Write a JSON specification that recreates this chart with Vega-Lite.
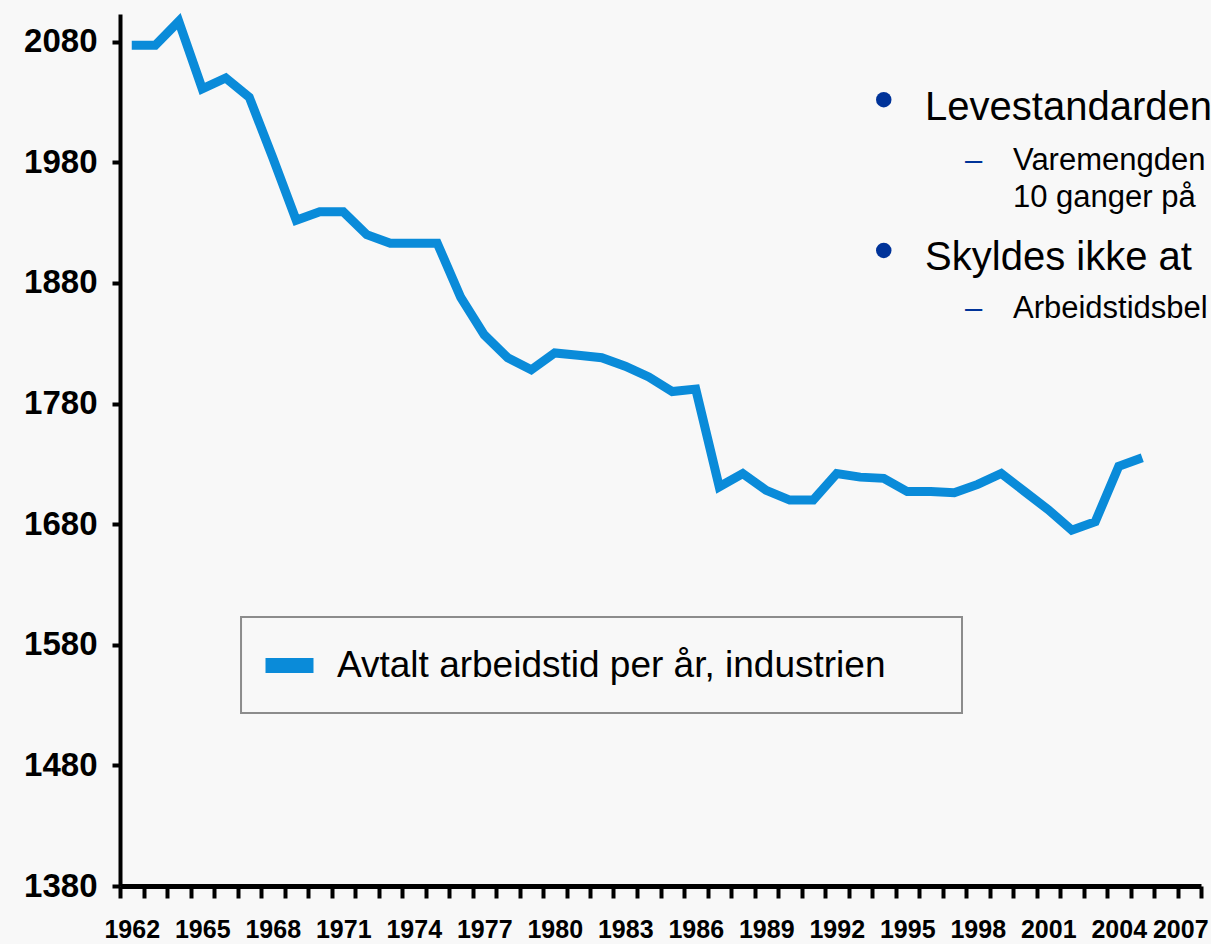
{
  "$schema": "https://vega.github.io/schema/vega-lite/v6.json",
  "autosize": {"type": "none"},
  "width": 1081,
  "height": 872,
  "padding": {"left": 120, "top": 14, "right": 10, "bottom": 58},
  "background": "#f8f8f8",
  "config": {"view": {"stroke": null}, "font": "Liberation Sans"},
  "resolve": {"axis": {"x": "independent"}},
  "datasets": {
    "hours": [
      {"year": 1962, "hours": 2077}, {"year": 1963, "hours": 2077}, {"year": 1964, "hours": 2097},
      {"year": 1965, "hours": 2041}, {"year": 1966, "hours": 2050}, {"year": 1967, "hours": 2034},
      {"year": 1968, "hours": 1984}, {"year": 1969, "hours": 1932}, {"year": 1970, "hours": 1939},
      {"year": 1971, "hours": 1939}, {"year": 1972, "hours": 1920}, {"year": 1973, "hours": 1913},
      {"year": 1974, "hours": 1913}, {"year": 1975, "hours": 1913}, {"year": 1976, "hours": 1868},
      {"year": 1977, "hours": 1837}, {"year": 1978, "hours": 1818}, {"year": 1979, "hours": 1808},
      {"year": 1980, "hours": 1822}, {"year": 1981, "hours": 1820}, {"year": 1982, "hours": 1818},
      {"year": 1983, "hours": 1811}, {"year": 1984, "hours": 1802}, {"year": 1985, "hours": 1790},
      {"year": 1986, "hours": 1792}, {"year": 1987, "hours": 1711}, {"year": 1988, "hours": 1722},
      {"year": 1989, "hours": 1708}, {"year": 1990, "hours": 1700}, {"year": 1991, "hours": 1700},
      {"year": 1992, "hours": 1722}, {"year": 1993, "hours": 1719}, {"year": 1994, "hours": 1718},
      {"year": 1995, "hours": 1707}, {"year": 1996, "hours": 1707}, {"year": 1997, "hours": 1706},
      {"year": 1998, "hours": 1713}, {"year": 1999, "hours": 1722}, {"year": 2000, "hours": 1707},
      {"year": 2001, "hours": 1692}, {"year": 2002, "hours": 1675}, {"year": 2003, "hours": 1682},
      {"year": 2004, "hours": 1728}, {"year": 2005, "hours": 1735}
    ],
    "notes": [
      {"kind": "bullet", "year": 1994.0, "hours": 2032, "label": ""},
      {"kind": "h1", "year": 1995.76, "hours": 2015, "label": "Levestandarden"},
      {"kind": "dash", "year": 1997.46, "hours": 1974, "label": "–"},
      {"kind": "h2", "year": 1999.5, "hours": 1974, "label": "Varemengden"},
      {"kind": "h2", "year": 1999.5, "hours": 1943, "label": "10 ganger på"},
      {"kind": "bullet", "year": 1994.0, "hours": 1907, "label": ""},
      {"kind": "h1", "year": 1995.76, "hours": 1891, "label": "Skyldes ikke at"},
      {"kind": "dash", "year": 1997.46, "hours": 1851, "label": "–"},
      {"kind": "h2", "year": 1999.5, "hours": 1851, "label": "Arbeidstidsbel"}
    ]
  },
  "layer": [
    {
      "data": {"values": [{}]},
      "mark": {"type": "rect", "fill": "#f8f8f8", "stroke": "#8c8c8c", "strokeWidth": 2},
      "encoding": {
        "x": {"datum": 1966.65, "type": "quantitative", "axis": null},
        "x2": {"datum": 1997.33},
        "y": {"datum": 1603, "type": "quantitative"},
        "y2": {"datum": 1523.5}
      }
    },
    {
      "data": {"name": "hours"},
      "mark": {"type": "line", "strokeWidth": 9, "strokeJoin": "miter", "strokeCap": "butt"},
      "encoding": {
        "x": {
          "field": "year", "type": "quantitative",
          "scale": {"domain": [1961.5, 2007.5], "nice": false, "zero": false},
          "axis": {
            "orient": "bottom",
            "title": null, "grid": false, "labels": false,
            "values": [1961.5,1962.5,1963.5,1964.5,1965.5,1966.5,1967.5,1968.5,1969.5,1970.5,1971.5,1972.5,1973.5,1974.5,1975.5,1976.5,1977.5,1978.5,1979.5,1980.5,1981.5,1982.5,1983.5,1984.5,1985.5,1986.5,1987.5,1988.5,1989.5,1990.5,1991.5,1992.5,1993.5,1994.5,1995.5,1996.5,1997.5,1998.5,1999.5,2000.5,2001.5,2002.5,2003.5,2004.5,2005.5,2006.5,2007.5],
            "domainColor": "#000000",
            "domainWidth": 5,
            "tickColor": "#000000",
            "tickWidth": 4,
            "tickSize": 12
          }
        },
        "y": {
          "field": "hours", "type": "quantitative",
          "scale": {"domain": [1380, 2103], "nice": false, "zero": false},
          "axis": {
            "title": null, "grid": false,
            "values": [1380, 1480, 1580, 1680, 1780, 1880, 1980, 2080],
            "format": "d",
            "labelFont": "Liberation Sans",
            "labelFontWeight": "bold",
            "labelFontSize": 33,
            "labelColor": "#000000",
            "labelPadding": 15,
            "labelOverlap": false,
            "labelFlush": false,
            "domainColor": "#000000",
            "domainWidth": 4,
            "tickColor": "#000000",
            "tickWidth": 4,
            "tickSize": 8
          }
        },
        "color": {
          "datum": "Avtalt arbeidstid per år, industrien",
          "type": "nominal",
          "scale": {"range": ["#0a8bd9"]},
          "legend": {
            "orient": "none",
            "legendX": 121,
            "legendY": 603,
            "title": null,
            "labelFont": "Liberation Sans",
            "labelFontSize": 37,
            "labelColor": "#000000",
            "labelOffset": 16,
            "labelLimit": 1000,
            "symbolType": "stroke",
            "symbolSize": 2304,
            "symbolStrokeWidth": 15,
            "padding": 17,
            "encode": {
              "symbols": {"update": {"stroke": {"value": "#3f95e0"}, "strokeCap": {"value": "butt"}}}
            }
          }
        }
      }
    },
    {
      "data": {"name": "notes"},
      "transform": [{"filter": "datum.kind == 'bullet'"}],
      "mark": {"type": "point", "shape": "circle", "filled": true, "color": "#003399", "opacity": 1, "size": 240},
      "encoding": {
        "x": {"field": "year", "type": "quantitative", "axis": null},
        "y": {"field": "hours", "type": "quantitative"}
      }
    },
    {
      "data": {"name": "notes"},
      "transform": [{"filter": "datum.kind == 'h1'"}],
      "mark": {"type": "text", "align": "left", "baseline": "alphabetic", "fontSize": 40, "font": "Liberation Sans", "color": "#000000"},
      "encoding": {
        "x": {
          "field": "year", "type": "quantitative",
          "axis": {
            "orient": "bottom",
            "title": null, "grid": false, "domain": false,
            "values": [1962, 1965, 1968, 1971, 1974, 1977, 1980, 1983, 1986, 1989, 1992, 1995, 1998, 2001, 2004, 2007],
            "format": "d",
            "ticks": true,
            "tickOpacity": 0,
            "tickSize": 12,
            "labelFont": "Liberation Sans",
            "labelFontWeight": "bold",
            "labelFontSize": 25,
            "labelColor": "#000000",
            "labelPadding": 19,
            "labelOffset": {"condition": {"test": "datum.value == 2007", "value": -9}, "value": 0},
            "labelOverlap": false,
            "labelFlush": false,
            "labelBound": false
          }
        },
        "y": {"field": "hours", "type": "quantitative"},
        "text": {"field": "label"}
      }
    },
    {
      "data": {"name": "notes"},
      "transform": [{"filter": "datum.kind == 'dash'"}],
      "mark": {"type": "text", "align": "left", "baseline": "alphabetic", "fontSize": 31, "font": "Liberation Sans", "color": "#003399"},
      "encoding": {
        "x": {"field": "year", "type": "quantitative", "axis": null},
        "y": {"field": "hours", "type": "quantitative"},
        "text": {"field": "label"}
      }
    },
    {
      "data": {"name": "notes"},
      "transform": [{"filter": "datum.kind == 'h2'"}],
      "mark": {"type": "text", "align": "left", "baseline": "alphabetic", "fontSize": 31, "font": "Liberation Sans", "color": "#000000"},
      "encoding": {
        "x": {"field": "year", "type": "quantitative", "axis": null},
        "y": {"field": "hours", "type": "quantitative"},
        "text": {"field": "label"}
      }
    }
  ]
}
